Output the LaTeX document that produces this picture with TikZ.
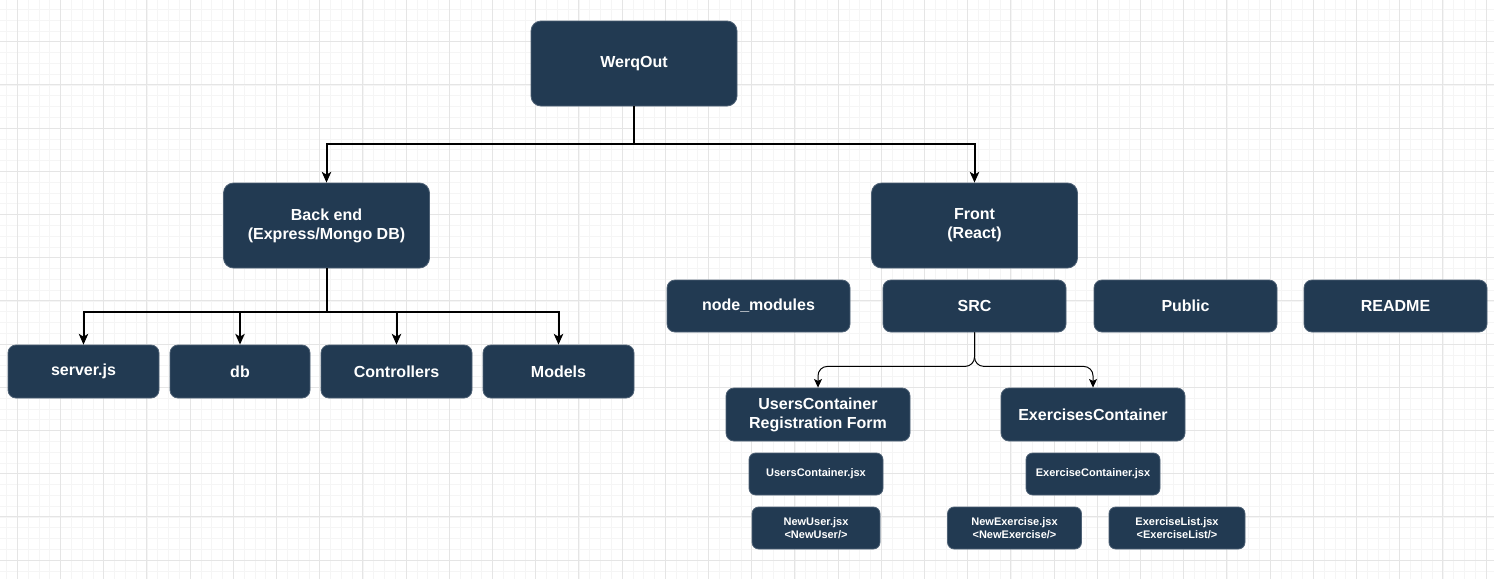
\documentclass[tikz,border=0pt]{standalone}
\usepackage{fontspec}
\setmainfont{Liberation Sans}
\usetikzlibrary{arrows.meta,positioning,calc}
\definecolor{boxfill}{RGB}{34,58,82}
\definecolor{gridmajor}{RGB}{229,229,229}
\definecolor{gridminor}{RGB}{245,245,245}

\begin{document}
\begin{tikzpicture}[x=0.75pt, y=-0.75pt,
    box/.style={draw=boxfill!80!white, line width=0.6pt, fill=boxfill, text=white,
        align=center, inner sep=0pt, font=\bfseries\fontsize{12}{14.25}\selectfont},
    big/.style={box, rounded corners=7.5pt, minimum width=154.5pt, minimum height=63.75pt},
    row/.style={box, rounded corners=6pt, minimum width=137.25pt, minimum height=39pt},
    leaf/.style={box, rounded corners=6pt, minimum width=113.25pt, minimum height=39.75pt},
    cont/.style={box, rounded corners=6pt, minimum width=138pt, minimum height=39.75pt},
    small/.style={box, rounded corners=5pt, minimum width=100.5pt, minimum height=31.5pt,
        font=\bfseries\fontsize{8.25}{9.3}\selectfont},
    tree/.style={line width=1.5pt, -{Stealth[length=8pt,width=7pt,inset=2pt]}},
    branch/.style={line width=0.75pt, rounded corners=7pt, -{Stealth[length=6.5pt,width=6pt,inset=1.5pt]}}
]
    % Background grid
    \useasboundingbox (0,0) rectangle (1494,579);
    \fill[white] (0,0) rectangle (1494,579);
    \foreach \k in {0,...,137} \draw[gridminor, line width=0.6pt] ({6.5+10.8*\k},0) -- ++(0,579);
    \foreach \k in {0,...,52} \draw[gridminor, line width=0.6pt] (0,{9.3+10.8*\k}) -- ++(1494,0);
    \foreach \k in {0,...,34} \draw[gridmajor, line width=0.75pt] ({17.3+43.2*\k},0) -- ++(0,579);
    \foreach \k in {0,...,12} \draw[gridmajor, line width=0.75pt] (0,{41.7+43.2*\k}) -- ++(1494,0);

    % Top levels
    \node[big] (root) at (634,63.5) {WerqOut};
    \node[big] (back) at (326.5,225.5) {Back end\\(Express/Mongo DB)};
    \node[big] (front) at (974.5,225.5) {Front\\(React)};

    % Front folders
    \node[row] (modules) at (758.5,306) {node\_modules};
    \node[row] (src) at (974.5,306) {SRC};
    \node[row] (public) at (1185.5,306) {Public};
    \node[row] (readme) at (1395.5,306) {README};

    % Back end files
    \node[leaf] (server) at (83.5,371.5) {server.js};
    \node[leaf, minimum width=105pt] (db) at (240,371.5) {db};
    \node[leaf] (controllers) at (396.5,371.5) {Controllers};
    \node[leaf] (models) at (558.5,371.5) {Models};

    % SRC containers
    \node[cont] (users) at (818,414.5) {UsersContainer\\Registration Form};
    \node[cont] (exercises) at (1093,414.5) {ExercisesContainer};
    \node[small] (usersjsx) at (816,474) {UsersContainer.jsx};
    \node[small, minimum width=96pt] (newuser) at (816,528) {NewUser.jsx\\<NewUser/>};
    \node[small] (exjsx) at (1093,474) {ExerciseContainer.jsx};
    \node[small] (newex) at (1014.5,528) {NewExercise.jsx\\<NewExercise/>};
    \node[small, minimum width=102pt] (exlist) at (1177,528) {ExerciseList.jsx\\<ExerciseList/>};

    % Connectors
    \draw[tree] (root.south) -- ++(0,38) -| (back.north);
    \draw[tree] (root.south) -- ++(0,38) -| (front.north);
    \foreach \n in {server,db,controllers,models}
        \draw[tree] (back.south) -- ++(0,44) -| (\n.north);
    \draw[branch] (src.south) -- ++(0,34) -| (users.north);
    \draw[branch] (src.south) -- ++(0,34) -| (exercises.north);
\end{tikzpicture}
\end{document}
